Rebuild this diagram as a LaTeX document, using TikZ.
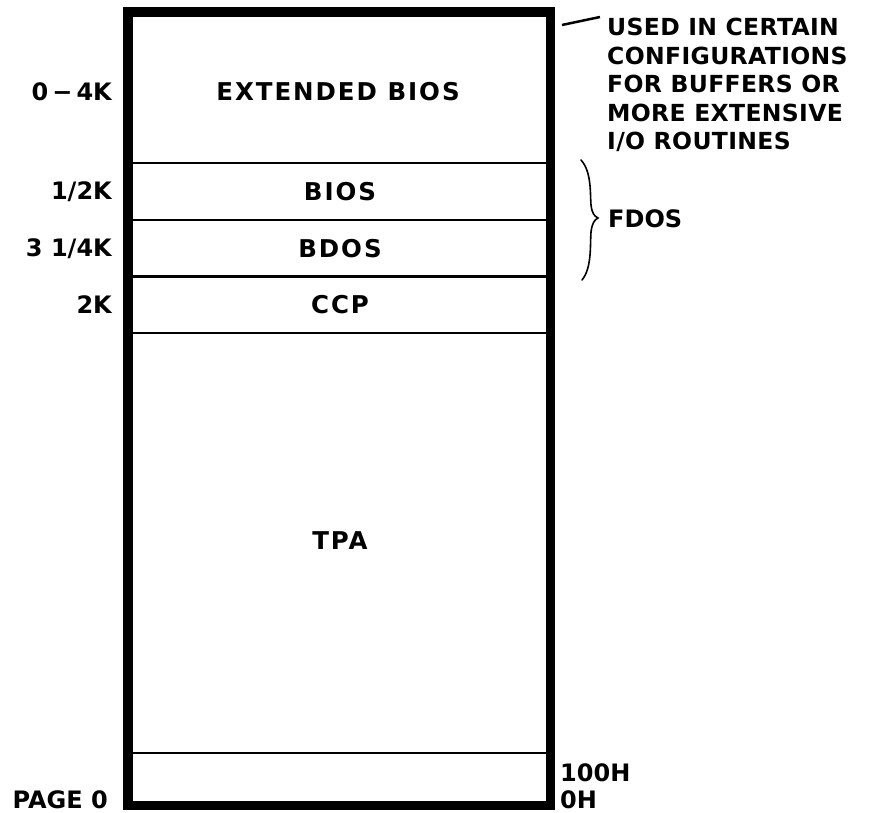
\documentclass[tikz,border=0pt]{standalone}
\usepackage{fontspec}
\setmainfont{DejaVu Sans}
\newfontfamily\innerfont[LetterSpace=8]{DejaVu Sans}
\newfontfamily\notefont[LetterSpace=1.5]{DejaVu Sans}
\begin{document}
\begin{tikzpicture}[x=1pt,y=-1pt,
  lbl/.style={font=\fontsize{24}{28}\selectfont\bfseries, inner sep=0pt},
  inlbl/.style={font=\fontsize{24.5}{28}\selectfont\innerfont\bfseries, inner sep=0pt},
  divider/.style={line width=2.5pt},
  frame/.style={line width=9.5pt},
  thinline/.style={line width=1.6pt, line cap=round}]
\useasboundingbox (0,0) rectangle (870,813);
% frame
\draw[frame] (128,12) rectangle (550.5,805.5);
\foreach \yy in {163,220,276.5,333,753}
  \draw[divider] (133,\yy) -- (546,\yy);
% inside labels
\node[inlbl] (ext) at (338,92) {EXTENDED BIOS};
\node[inlbl] (bios) at (340,192) {BIOS};
\node[inlbl] (bdos) at (340,249) {BDOS};
\node[inlbl] (ccp) at (340,305) {CCP};
\node[inlbl] (tpa) at (340,541) {TPA};
% left labels
\node[lbl, anchor=east] (s0) at (112,92) {0\,−\,4K};
\node[lbl, anchor=east] (s1) at (112,192) {1/2K};
\node[lbl, anchor=east] (s2) at (112,249) {3 1/4K};
\node[lbl, anchor=east] (s3) at (112,305) {2K};
\node[lbl, anchor=east] (pg) at (108,800) {PAGE 0};
% right labels
\node[lbl, anchor=west] (h100) at (560,773) {100H};
\node[lbl, anchor=west] (h0) at (560,800) {0H};
% callout
\node[lbl, anchor=north west, align=left, font=\fontsize{23.5}{28.5}\selectfont\notefont\bfseries] (note) at (607,18)
  {USED IN CERTAIN\\CONFIGURATIONS\\FOR BUFFERS OR\\MORE EXTENSIVE\\I/O ROUTINES};
\coordinate (lead) at (562,25);
\coordinate (leadend) at (600,17);
\draw[line width=2.5pt] (lead) -- (leadend);
% brace
\node[lbl, anchor=west] (fdos) at (608,219) {FDOS};
\coordinate (btip) at (598,218);
\draw[thinline] (581,160) .. controls (592,172) and (590,195) .. (591,205)
  .. controls (592,213) and (594,216) .. (btip)
  .. controls (594,220) and (592,224) .. (591,232)
  .. controls (590,245) and (592,268) .. (582,280);
\end{tikzpicture}
\end{document}
